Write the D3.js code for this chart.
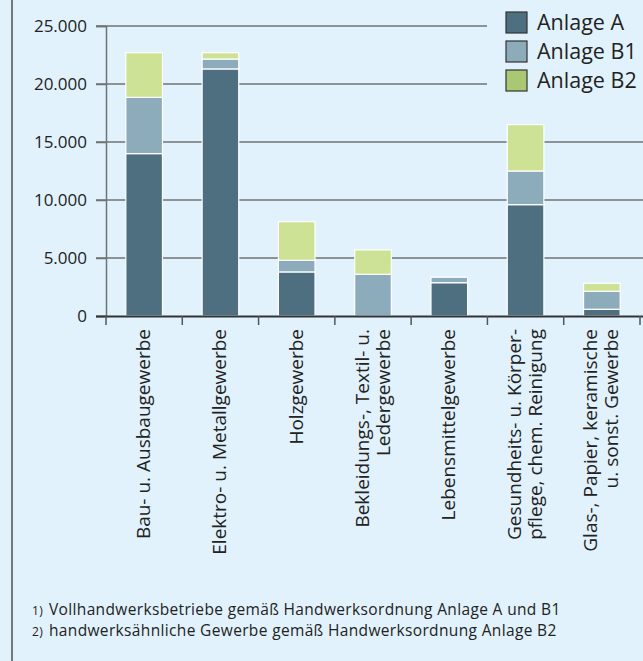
<!DOCTYPE html>
<html>
<head>
<meta charset="utf-8">
<script src="https://cdn.jsdelivr.net/npm/d3@7"></script>
<style>
	body { margin: 0; background: #e1f2fc; }
	svg { display: block; font-family: "Open Sans", "Noto Sans", sans-serif; }
</style>
</head>
<body>
<svg width="643" height="661"></svg>
<script>
var categories = [
	["Bau- u. Ausbaugewerbe"],
	["Elektro- u. Metallgewerbe"],
	["Holzgewerbe"],
	["Bekleidungs-, Textil- u.", "Ledergewerbe"],
	["Lebensmittelgewerbe"],
	["Gesundheits- u. Körper-", "pflege, chem. Reinigung"],
	["Glas-, Papier, keramische", "u. sonst. Gewerbe"]
];
var anlageA = [14000, 21300, 3800, 0, 2870, 9600, 580];
var anlageB1 = [4850, 850, 1000, 3600, 470, 2900, 1550];
var anlageB2 = [3850, 550, 3330, 2100, 0, 4000, 690];
var seriesNames = ["Anlage A", "Anlage B1", "Anlage B2"];
var yTicks = [0, 5000, 10000, 15000, 20000, 25000];
var footnotes = [
	["1)", "Vollhandwerksbetriebe gemäß Handwerksordnung Anlage A und B1"],
	["2)", "handwerksähnliche Gewerbe gemäß Handwerksordnung Anlage B2"]
];

var barColors = ["#4e6f80", "#8cabbb", "#cde294"];
var legendColors = ["#4e6f80", "#8cabbb", "#aac774"];

var svg = d3.select("svg");

// frame line on the left
svg.append("line")
	.attr("x1", 12).attr("x2", 12)
	.attr("y1", 0).attr("y2", 661)
	.attr("stroke", "#777").attr("stroke-width", 2);

var table = categories.map(function(c, i) {
	return { idx: i, A: anlageA[i], B1: anlageB1[i], B2: anlageB2[i] };
});

var x = d3.scaleBand()
	.domain(d3.range(categories.length))
	.range([106, 640])
	.paddingInner(0.52)
	.paddingOuter(0.26);
var y = d3.scaleLinear().domain([0, 25000]).range([316, 26]);

// gridlines (top two stop before the legend)
svg.append("g").selectAll("line")
	.data(yTicks.slice(1))
	.join("line")
	.attr("x1", 96)
	.attr("x2", function(d) { return d >= 20000 ? 487 : 643; })
	.attr("y1", function(d) { return y(d); })
	.attr("y2", function(d) { return y(d); })
	.attr("stroke", "#6f7375")
	.attr("stroke-width", 1.5);

// y axis
var yAxis = svg.append("g")
	.attr("transform", "translate(106,0)")
	.call(d3.axisLeft(y).tickValues(yTicks).tickSize(10).tickPadding(9)
		.tickFormat(function(d) { return d3.format(",")(d).replace(/,/g, "."); }));
yAxis.select(".domain").attr("stroke", "#6f7375").attr("stroke-width", 1.5);
yAxis.selectAll(".tick line").attr("stroke", "#6f7375").attr("stroke-width", 1.5);
yAxis.selectAll("text")
	.attr("font-size", 17)
	.attr("fill", "#222")
	.attr("font-family", "'Open Sans', 'Noto Sans', sans-serif");

// stacked bars
var stack = d3.stack().keys(["A", "B1", "B2"]);
var layers = stack(table);

svg.append("g").selectAll("g")
	.data(layers)
	.join("g")
	.attr("fill", function(d, i) { return barColors[i]; })
	.selectAll("rect")
	.data(function(d) { return d.filter(function(s) { return s[1] - s[0] > 0; }); })
	.join("rect")
	.attr("x", function(d) { return x(d.data.idx); })
	.attr("width", x.bandwidth())
	.attr("y", function(d) { return y(d[1]); })
	.attr("height", function(d) { return y(d[0]) - y(d[1]); })
	.attr("stroke", "#fff")
	.attr("stroke-width", 1.2);

// x axis baseline with ticks at band boundaries
var xg = svg.append("g");
xg.append("line")
	.attr("x1", 96).attr("x2", 643)
	.attr("y1", 316.5).attr("y2", 316.5)
	.attr("stroke", "#333").attr("stroke-width", 1.8);
var bounds = d3.range(categories.length + 1).map(function(i) {
	return i < categories.length ? x(i) - x.step() * x.paddingInner() / 2 : x(i - 1) + x.bandwidth() + x.step() * x.paddingInner() / 2;
});
xg.selectAll(".bt")
	.data(bounds)
	.join("line")
	.attr("class", "bt")
	.attr("x1", function(d) { return d; })
	.attr("x2", function(d) { return d; })
	.attr("y1", 316)
	.attr("y2", 325)
	.attr("stroke", "#555")
	.attr("stroke-width", 1.5);

// category labels, rotated
var lineH = 21;
categories.forEach(function(lines, i) {
	var cx = x(i) + x.bandwidth() / 2;
	var t = svg.append("text")
		.attr("transform", "translate(" + cx + ",329) rotate(-90)")
		.attr("text-anchor", "end")
		.attr("font-size", 19)
		.attr("fill", "#222");
	lines.forEach(function(l, j) {
		var off = (j - (lines.length - 1) / 2) * lineH;
		t.append("tspan")
			.attr("x", 0)
			.attr("y", off + 6)
			.text(l);
	});
});

// legend
var legend = svg.append("g").attr("transform", "translate(506,12)");
seriesNames.forEach(function(n, i) {
	var g = legend.append("g").attr("transform", "translate(0," + i * 29 + ")");
	g.append("rect")
		.attr("width", 21).attr("height", 21)
		.attr("fill", legendColors[i])
		.attr("stroke", "#333").attr("stroke-width", 1.2);
	g.append("text")
		.attr("x", 31).attr("y", 18)
		.attr("font-size", 21.5)
		.attr("fill", "#222")
		.text(n);
});

// footnotes
footnotes.forEach(function(f, i) {
	var t = svg.append("text")
		.attr("y", 614.5 + i * 21.5)
		.attr("font-size", 15.5)
		.attr("letter-spacing", 0.35)
		.attr("fill", "#222");
	t.append("tspan").attr("x", 32).attr("font-size", 12).text(f[0]);
	t.append("tspan").attr("x", 49).text(f[1]);
});
</script>
</body>
</html>
